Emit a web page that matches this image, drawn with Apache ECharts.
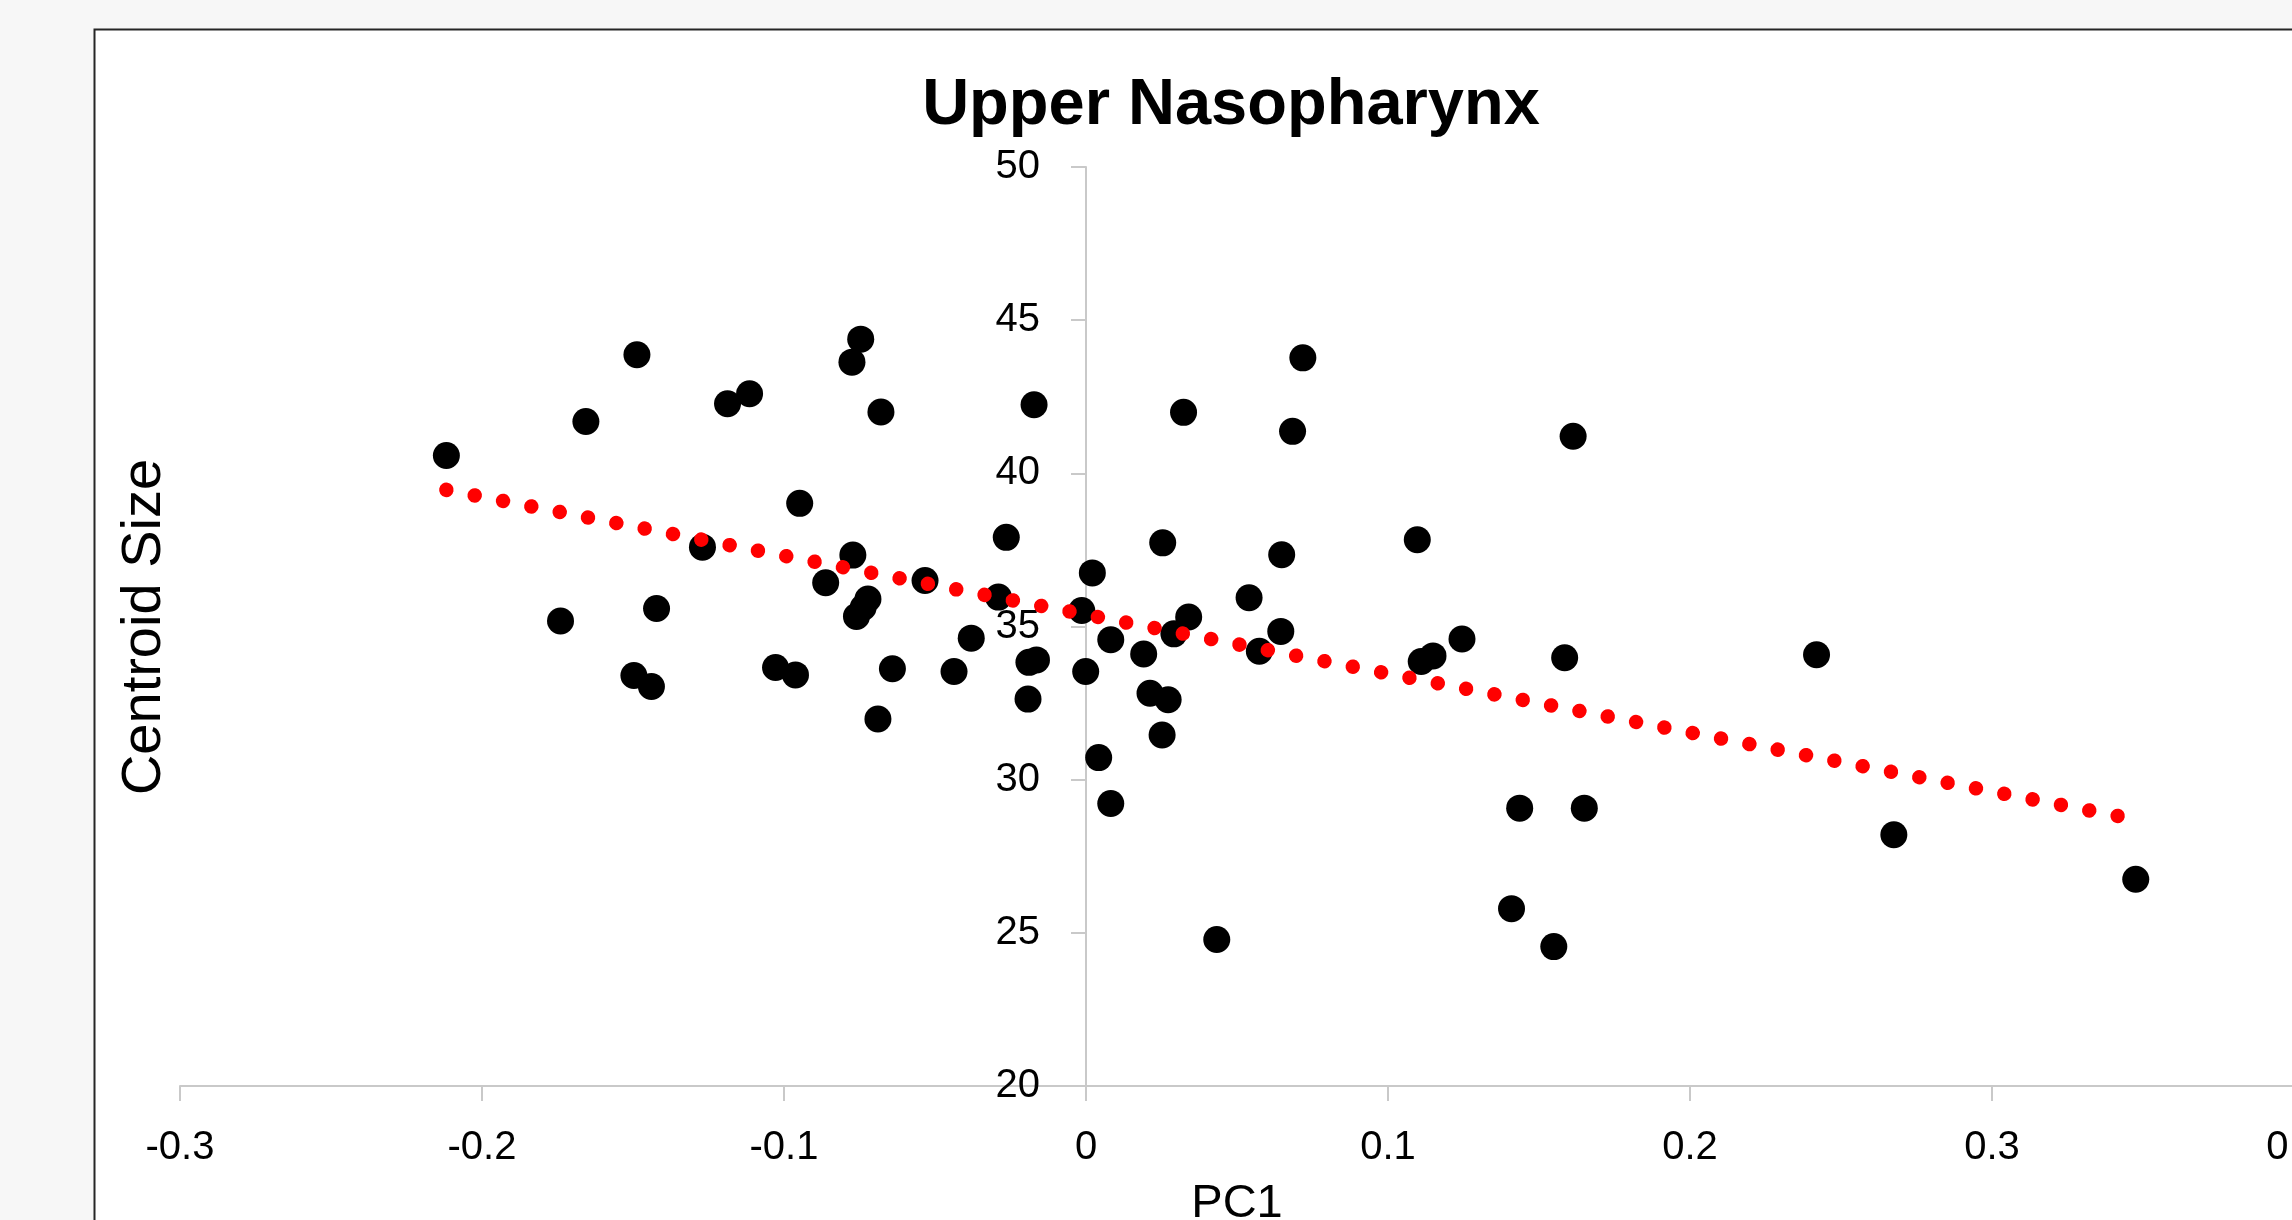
<!DOCTYPE html>
<html>
<head>
<meta charset="utf-8">
<title>Upper Nasopharynx</title>
<script src="https://cdn.jsdelivr.net/npm/echarts@6/dist/echarts.min.js"></script>
<style>
    html, body { margin: 0; padding: 0; background: #f7f7f7; }
    #chart { width: 2292px; height: 1220px; }
</style>
</head>
<body>
<div id="chart"></div>
<script>
// PC1 score of each specimen
const pc1 = [
    -0.2118, -0.1740, -0.1656, -0.1487, -0.1497, -0.1439, -0.1422, -0.1270, -0.1187, -0.1114,
    -0.1028, -0.0962, -0.0948, -0.0862, -0.0775, -0.0746, -0.0772, -0.0760, -0.0738, -0.0722,
    -0.0689, -0.0679, -0.0641, -0.0533, -0.0437, -0.0380, -0.0290, -0.0264, -0.0192, -0.0189,
    -0.0164, -0.0172, -0.0014, -0.0001, 0.0021, 0.0042, 0.0082, 0.0082, 0.0191, 0.0212,
    0.0252, 0.0254, 0.0272, 0.0291, 0.0323, 0.0340, 0.0433, 0.0540, 0.0574, 0.0645,
    0.0648, 0.0684, 0.0718, 0.1097, 0.1110, 0.1149, 0.1245, 0.1409, 0.1436, 0.1549,
    0.1585, 0.1613, 0.1650, 0.2419, 0.2675, 0.3476,
];
// centroid size of each specimen (same order)
const centroidSize = [
    40.58, 35.18, 41.69, 43.87, 33.40, 33.04, 35.59, 37.59, 42.27, 42.60,
    33.66, 33.42, 39.02, 36.43, 43.63, 44.38, 37.33, 35.33, 35.62, 35.90,
    31.98, 42.00, 33.62, 36.50, 33.53, 34.62, 35.96, 37.91, 32.63, 33.83,
    33.91, 42.24, 35.52, 33.53, 36.75, 30.72, 34.57, 29.22, 34.10, 32.82,
    31.46, 37.73, 32.61, 34.76, 41.99, 35.31, 24.78, 35.94, 34.19, 34.84,
    37.34, 41.37, 43.77, 37.83, 33.86, 34.04, 34.59, 25.79, 29.07, 24.55,
    33.98, 41.21, 29.07, 34.08, 28.20, 26.75,
];
// linear trend line end points
const trendX = [-0.2118, 0.3476];
const trendY = [39.46, 28.70];

const chartTitle = "Upper Nasopharynx";
const xName = "PC1";
const yName = "Centroid Size";

const chart = echarts.init(document.getElementById("chart"));

const axisColor = "#c9c9c9";
const labelFont = "'Liberation Sans', Arial, sans-serif";

// grid geometry: x from -0.3 to 0.4, the y axis crosses at x = 0
const gridLeft = 180;
const gridWidth = 2114;
const yAxisShift = -gridWidth * 3 / 7;

const option = {
    backgroundColor: "#f7f7f7",
    animation: false,
    title: {
        text: chartTitle,
        left: 1226,
        top: 69,
        textAlign: "center",
        textStyle: {
            fontFamily: labelFont,
            fontWeight: "bold",
            fontSize: 65,
            color: "#000",
        },
    },
    graphic: [
        {
            // chart area with its border
            type: "rect",
            z: -10,
            shape: { x: 94.5, y: 29.5, width: 2400, height: 1400 },
            style: { fill: "#fff", stroke: "#262626", lineWidth: 2 },
        },
        {
            type: "text",
            x: 145,
            y: 627,
            rotation: Math.PI / 2,
            style: {
                text: yName,
                font: "56px " + labelFont,
                fill: "#000",
                align: "center",
                verticalAlign: "middle",
            },
        },
    ],
    grid: {
        left: gridLeft,
        top: 167,
        width: gridWidth,
        height: 919,
        containLabel: false,
        outerBoundsMode: "none",
    },
    xAxis: {
        type: "value",
        min: -0.3,
        max: 0.4,
        interval: 0.1,
        name: xName,
        nameLocation: "middle",
        nameGap: 95,
        nameTextStyle: {
            fontFamily: labelFont,
            fontSize: 47,
            color: "#000",
        },
        axisLine: { show: true, onZero: false, lineStyle: { color: axisColor, width: 2 } },
        axisTick: { show: true, length: 15, lineStyle: { color: axisColor, width: 2 } },
        axisLabel: {
            margin: 42,
            fontFamily: labelFont,
            fontSize: 40,
            color: "#000",
        },
        splitLine: { show: false },
    },
    yAxis: {
        type: "value",
        min: 20,
        max: 50,
        interval: 5,
        position: "left",
        offset: yAxisShift,
        axisLine: { show: true, onZero: false, lineStyle: { color: axisColor, width: 2 } },
        axisTick: { show: true, length: 15, lineStyle: { color: axisColor, width: 2 } },
        axisLabel: {
            margin: 46,
            fontFamily: labelFont,
            fontSize: 40,
            color: "#000",
        },
        splitLine: { show: false },
    },
    series: [
        {
            type: "scatter",
            symbol: "circle",
            symbolSize: 27,
            itemStyle: { color: "#000", opacity: 1 },
            data: pc1.map((x, i) => [x, centroidSize[i]]),
        },
        {
            // Excel style round-dot trend line
            type: "line",
            showSymbol: false,
            silent: true,
            data: trendX.map((x, i) => [x, trendY[i]]),
            lineStyle: {
                color: "#ff0000",
                width: 14.5,
                type: [0.01, 28.85],
                cap: "round",
            },
        },
    ],
};

chart.setOption(option);
</script>
</body>
</html>
